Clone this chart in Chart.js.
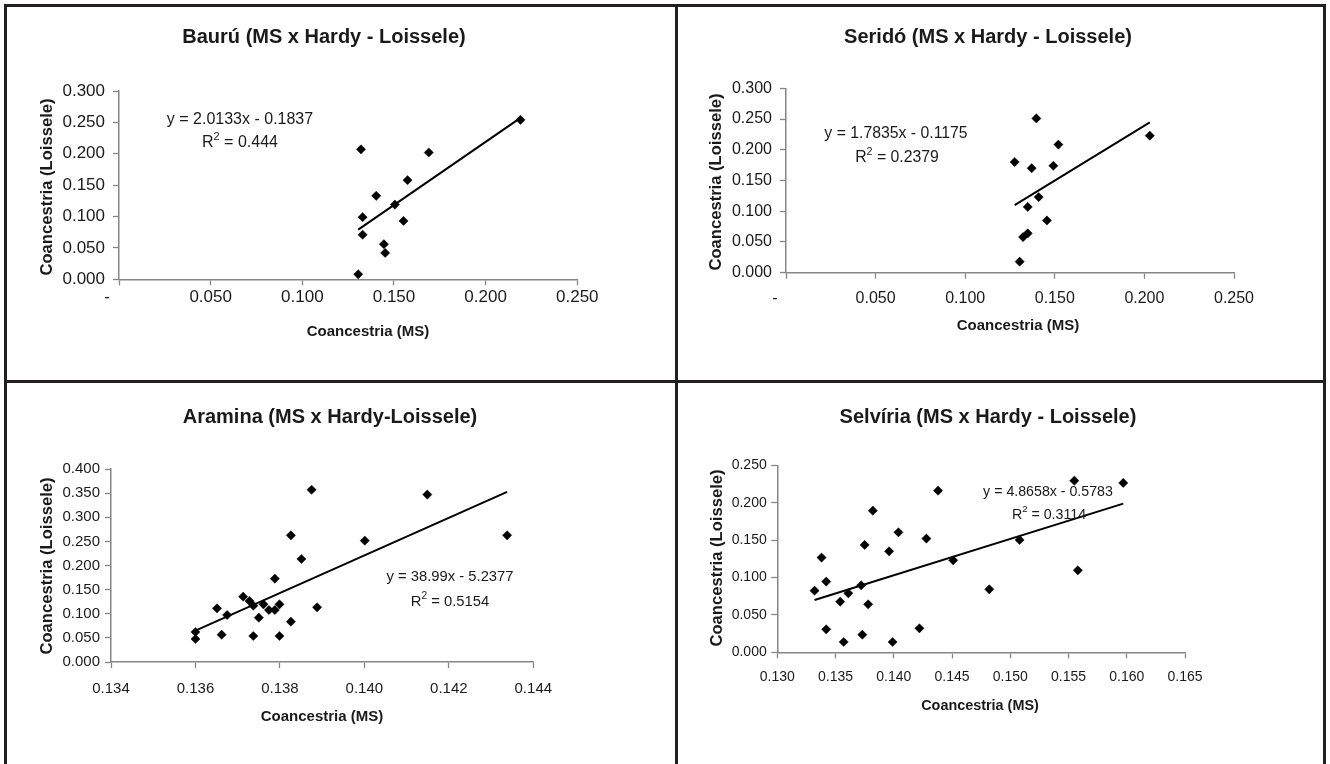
<!DOCTYPE html>
<html>
<head>
<meta charset="utf-8">
<title>Coancestria MS x Loiselle</title>
<script src="https://cdn.jsdelivr.net/npm/chart.js@4.4.1/dist/chart.umd.min.js"></script>
<style>
  body { margin: 0; background: #fff; }
  #page { position: relative; width: 1330px; height: 764px; overflow: hidden; background: #fff; }
  .frame { position: absolute; left: 4px; top: 4px; width: 1316px; height: 790px; border: 3px solid #231f20; }
  .vline { position: absolute; left: 675px; top: 4px; width: 3px; height: 790px; background: #231f20; }
  .hline { position: absolute; left: 4px; top: 380px; width: 1322px; height: 3px; background: #231f20; }
  canvas { position: absolute; }
</style>
</head>
<body>
<div id="page">
  <div class="frame"></div>
  <div class="vline"></div>
  <div class="hline"></div>
  <canvas id="bauru"></canvas>
  <canvas id="serido"></canvas>
  <canvas id="aramina"></canvas>
  <canvas id="selviria"></canvas>
</div>
<script>
// ---- data ----
const bauruMS       = [0.219, 0.132, 0.169, 0.1574, 0.1403, 0.1505, 0.1329, 0.1552, 0.1329, 0.1445, 0.1452, 0.1305];
const bauruLoiselle = [0.254, 0.207, 0.202, 0.158, 0.133, 0.119, 0.099, 0.093, 0.071, 0.056, 0.042, 0.008];

const seridoMS       = [0.1397, 0.2030, 0.1520, 0.1276, 0.1371, 0.1492, 0.1410, 0.1349, 0.1456, 0.1349, 0.1323, 0.1304];
const seridoLoiselle = [0.251, 0.223, 0.2085, 0.180, 0.170, 0.174, 0.123, 0.107, 0.085, 0.064, 0.058, 0.018];

const araminaMS = [0.13875, 0.14149, 0.13826, 0.14001, 0.14338, 0.13851, 0.13788, 0.13713, 0.13728, 0.13737, 0.13651, 0.13761,
                   0.13799, 0.13774, 0.13788, 0.13888, 0.13675, 0.13750, 0.13826, 0.13600, 0.13600, 0.13662, 0.13737, 0.13799];
const araminaLoiselle = [0.357, 0.347, 0.2625, 0.2515, 0.2625, 0.2135, 0.1727, 0.1354, 0.1264, 0.1168, 0.1112, 0.1195,
                         0.1195, 0.1078, 0.1078, 0.1133, 0.0974, 0.0919, 0.0836, 0.0622, 0.0477, 0.0567, 0.0539, 0.0539];

const selviriaMS = [0.1555, 0.1597, 0.1438, 0.1382, 0.1404, 0.1428, 0.1508, 0.1375, 0.1396, 0.1338, 0.1451, 0.1558,
                    0.1342, 0.1372, 0.1332, 0.1482, 0.1361, 0.1354, 0.1378, 0.1342, 0.1422, 0.1373, 0.1357, 0.1399];
const selviriaLoiselle = [0.2295, 0.2264, 0.2161, 0.1894, 0.1604, 0.152, 0.1502, 0.1435, 0.135, 0.1266, 0.123, 0.1096,
                          0.0945, 0.0896, 0.0824, 0.0842, 0.0789, 0.0677, 0.0642, 0.0307, 0.0321, 0.0236, 0.0138, 0.0138];

// trendline coefficients as printed on the chart
const slopes     = [2.0133, 1.7835, 38.99, 4.8658];
const intercepts = [-0.1837, -0.1175, -5.2377, -0.5783];
const r2Values   = ['0.444', '0.2379', '0.5154', '0.3114'];

// ticks (the zero label is Excel's accounting dash, padded with spaces)
const xTicksWide    = [0, 0.05, 0.1, 0.15, 0.2, 0.25];
const xLabelsWide   = ['-     ', '0.050', '0.100', '0.150', '0.200', '0.250'];
const yTicks300     = [0, 0.05, 0.1, 0.15, 0.2, 0.25, 0.3];
const yLabels300    = ['0.000', '0.050', '0.100', '0.150', '0.200', '0.250', '0.300'];
const xTicksAramina = [0.134, 0.136, 0.138, 0.140, 0.142, 0.144];
const xLabelsAramina = ['0.134', '0.136', '0.138', '0.140', '0.142', '0.144'];
const yTicks400     = [0, 0.05, 0.1, 0.15, 0.2, 0.25, 0.3, 0.35, 0.4];
const yLabels400    = ['0.000', '0.050', '0.100', '0.150', '0.200', '0.250', '0.300', '0.350', '0.400'];
const xTicksSelviria = [0.130, 0.135, 0.140, 0.145, 0.150, 0.155, 0.160, 0.165];
const xLabelsSelviria = ['0.130', '0.135', '0.140', '0.145', '0.150', '0.155', '0.160', '0.165'];
const yTicks250     = [0, 0.05, 0.1, 0.15, 0.2, 0.25];
const yLabels250    = ['0.000', '0.050', '0.100', '0.150', '0.200', '0.250'];

const titles = ['Baurú (MS x Hardy - Loissele)', 'Seridó (MS x Hardy - Loissele)',
                'Aramina (MS x Hardy-Loissele)', 'Selvíria (MS x Hardy - Loissele)'];
const xTitle = 'Coancestria (MS)';
const yTitle = 'Coancestria (Loissele)';

// ---- layout (page pixels) ----
const FONT = '"Liberation Sans", Arial, sans-serif';
const TEXT = '#1a1a1a';
const AXIS = '#868686';

const panels = [
  { id: 'bauru', canvas: [7, 7, 668, 373], area: [119, 91, 577.3, 279.3],
    xs: bauruMS, ys: bauruLoiselle, xt: xTicksWide, xl: xLabelsWide, yt: yTicks300, yl: yLabels300,
    tickSize: 17, padX: 2, padY: 8, eqSize: 16, xTitleSize: 15,
    titleAt: [324, 37], xTitleAt: [368, 332], yTitleAt: [47, 187], eqAt: [240, 120], r2At: [240, 143] },
  { id: 'serido', canvas: [678, 7, 645, 373], area: [786, 88.3, 1234, 272.7],
    xs: seridoMS, ys: seridoLoiselle, xt: xTicksWide, xl: xLabelsWide, yt: yTicks300, yl: yLabels300,
    tickSize: 16, padX: 10, padY: 8, eqSize: 15.8, xTitleSize: 15,
    titleAt: [988, 37], xTitleAt: [1018, 326], yTitleAt: [716, 182], eqAt: [896, 134], r2At: [897, 158] },
  { id: 'aramina', canvas: [7, 383, 668, 381], area: [111, 469, 533.3, 662],
    xs: araminaMS, ys: araminaLoiselle, xt: xTicksAramina, xl: xLabelsAramina, yt: yTicks400, yl: yLabels400,
    tickSize: 15, padX: 12, padY: 5, eqSize: 14.8, xTitleSize: 15,
    titleAt: [330, 417], xTitleAt: [322, 717], yTitleAt: [47, 566], eqAt: [450, 577], r2At: [450, 602] },
  { id: 'selviria', canvas: [678, 383, 645, 381], area: [777.3, 465.3, 1185, 652.3],
    xs: selviriaMS, ys: selviriaLoiselle, xt: xTicksSelviria, xl: xLabelsSelviria, yt: yTicks250, yl: yLabels250,
    tickSize: 14, padX: 10.5, padY: 4.6, eqSize: 14.2, xTitleSize: 14.4,
    titleAt: [988, 417], xTitleAt: [980, 706], yTitleAt: [717, 558], eqAt: [1048, 492], r2At: [1049, 515] }
];

const Y_AXIS_W = 80;
const X_AXIS_H = 36;

// titles, axis titles and the trendline equation
const panelText = {
  id: 'panelText',
  afterDraw(chart, args, opts) {
    const ctx = chart.ctx;
    const ox = opts.origin[0], oy = opts.origin[1];
    ctx.save();
    ctx.fillStyle = TEXT;
    ctx.textBaseline = 'middle';
    ctx.textAlign = 'center';

    ctx.font = 'bold 20px ' + FONT;
    ctx.fillText(opts.title, opts.titleAt[0] - ox, opts.titleAt[1] - oy);

    ctx.font = 'bold ' + opts.xTitleSize + 'px ' + FONT;
    ctx.fillText(xTitle, opts.xTitleAt[0] - ox, opts.xTitleAt[1] - oy);

    ctx.save();
    ctx.font = 'bold 16.6px ' + FONT;
    ctx.translate(opts.yTitleAt[0] - ox, opts.yTitleAt[1] - oy);
    ctx.rotate(-Math.PI / 2);
    ctx.fillText(yTitle, 0, 0);
    ctx.restore();

    const fs = opts.eqSize, sup = fs * 0.68;
    ctx.font = fs + 'px ' + FONT;
    ctx.fillText(opts.equation, opts.eqAt[0] - ox, opts.eqAt[1] - oy);

    // R² with a raised 2
    const rest = ' = ' + opts.r2;
    const wR = ctx.measureText('R').width;
    const wRest = ctx.measureText(rest).width;
    ctx.font = sup + 'px ' + FONT;
    const w2 = ctx.measureText('2').width;
    let x = opts.r2At[0] - ox - (wR + w2 + wRest) / 2;
    const y = opts.r2At[1] - oy;
    ctx.textAlign = 'left';
    ctx.font = fs + 'px ' + FONT;
    ctx.fillText('R', x, y);
    x += wR;
    ctx.font = sup + 'px ' + FONT;
    ctx.fillText('2', x, y - fs * 0.38);
    x += w2;
    ctx.font = fs + 'px ' + FONT;
    ctx.fillText(rest, x, y);
    ctx.restore();
  }
};

function fmtEquation(m, b) {
  const sign = b < 0 ? ' - ' : ' + ';
  return 'y = ' + m + 'x' + sign + Math.abs(b).toFixed(4);
}

function axisOptions(ticks, labels, isX, tickPad, fontSize) {
  return {
    type: 'linear',
    position: isX ? 'bottom' : 'left',
    min: ticks[0],
    max: ticks[ticks.length - 1],
    afterBuildTicks: (scale) => { scale.ticks = ticks.map(v => ({ value: v })); },
    afterFit: (scale) => {
      if (isX) { scale.height = X_AXIS_H; scale.paddingLeft = 0; scale.paddingRight = 0; }
      else { scale.width = Y_AXIS_W; scale.paddingTop = 0; scale.paddingBottom = 0; }
    },
    grid: { drawOnChartArea: false, drawTicks: true, tickLength: 6, tickColor: AXIS, tickWidth: 1.3 },
    border: { display: true, color: AXIS, width: 1.5 },
    ticks: {
      autoSkip: false,
      maxRotation: 0,
      padding: tickPad,
      color: TEXT,
      font: { family: FONT, size: fontSize },
      callback: (value, index) => labels[index]
    }
  };
}

panels.forEach((p, i) => {
  const [cx, cy, cw, ch] = p.canvas;
  const el = document.getElementById(p.id);
  el.width = cw; el.height = ch;
  el.style.left = cx + 'px'; el.style.top = cy + 'px';
  el.style.width = cw + 'px'; el.style.height = ch + 'px';

  const left = p.area[0] - cx, top = p.area[1] - cy;
  const right = p.area[2] - cx, bottom = p.area[3] - cy;

  const points = p.xs.map((x, k) => ({ x: x, y: p.ys[k] }));
  const minX = Math.min(...p.xs), maxX = Math.max(...p.xs);
  const trend = [minX, maxX].map(x => ({ x: x, y: slopes[i] * x + intercepts[i] }));

  new Chart(el, {
    type: 'scatter',
    data: {
      datasets: [
        { label: 'Linear', data: trend, showLine: true, borderColor: '#000', borderWidth: 2,
          pointRadius: 0, fill: false },
        { label: 'Dados', data: points, pointStyle: 'rectRot', pointRadius: 4.6,
          backgroundColor: '#000', borderColor: '#000', borderWidth: 0.5 }
      ]
    },
    options: {
      responsive: false,
      animation: false,
      devicePixelRatio: 1,
      layout: {
        padding: { left: left - Y_AXIS_W, top: top, right: cw - right, bottom: ch - bottom - X_AXIS_H }
      },
      scales: {
        x: axisOptions(p.xt, p.xl, true, p.padX, p.tickSize),
        y: axisOptions(p.yt, p.yl, false, p.padY, p.tickSize)
      },
      plugins: {
        legend: { display: false },
        tooltip: { enabled: false },
        panelText: {
          origin: [cx, cy],
          title: titles[i],
          titleAt: p.titleAt,
          xTitleAt: p.xTitleAt,
          xTitleSize: p.xTitleSize,
          yTitleAt: p.yTitleAt,
          equation: fmtEquation(slopes[i], intercepts[i]),
          eqAt: p.eqAt,
          eqSize: p.eqSize,
          r2: r2Values[i],
          r2At: p.r2At
        }
      }
    },
    plugins: [panelText]
  });
});
</script>
</body>
</html>
